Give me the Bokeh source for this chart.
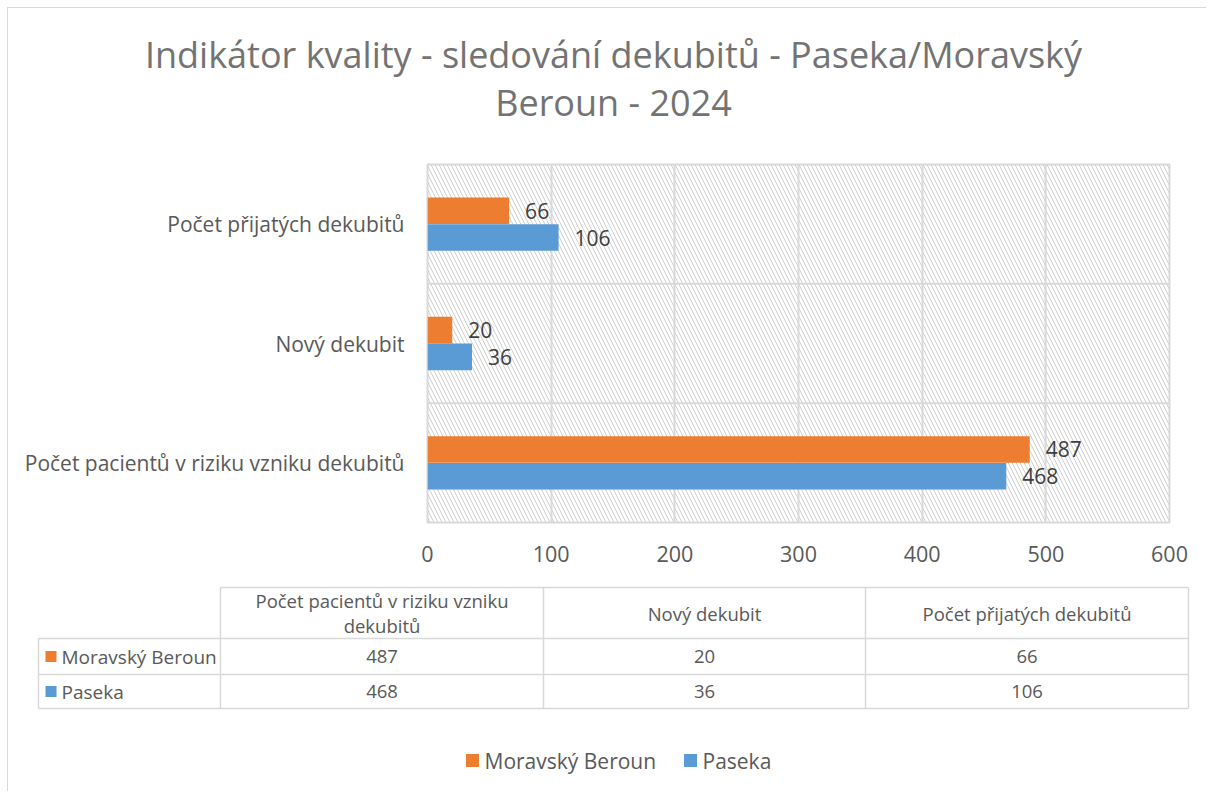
import textwrap
from bokeh.plotting import figure
from bokeh.models import Range1d, FactorRange, Span, BoxAnnotation, FixedTicker, ColumnDataSource
from bokeh.layouts import column
from bokeh.transform import dodge
from bokeh.core.properties import value
from bokeh.embed import file_html
from bokeh.resources import INLINE

# ---------------- data ----------------
title_lines = ["Indikátor kvality - sledování dekubitů - Paseka/Moravský", "Beroun - 2024"]
categories = ["Počet pacientů v riziku vzniku dekubitů", "Nový dekubit", "Počet přijatých dekubitů"]
series_names = ["Moravský Beroun", "Paseka"]
moravsky_beroun = [487, 20, 66]
paseka = [468, 36, 106]
x_ticks = [0, 100, 200, 300, 400, 500, 600]
colors = ["#ED7D31", "#5B9BD5"]

FONT = "Open Sans"
TXT = "#595959"
TITLE = "#737373"
VAL = "#404040"
GRID = "#d9d9d9"
W = 1198

# ---------------- title ----------------
t = figure(width=W, height=140, x_range=Range1d(0, W), y_range=Range1d(140, 0),
           x_axis_location=None, y_axis_location=None, min_border=0, frame_align=False,
           output_backend="svg", toolbar_location=None)
t.grid.visible = False
t.outline_line_color = None
t.text(x=[605] * len(title_lines), y=[46 + 48 * i for i in range(len(title_lines))], text=title_lines,
       text_align="center", text_baseline="middle", text_font=value(FONT),
       text_font_size="36px", text_color=TITLE)

# ---------------- bar chart ----------------
a = figure(width=W, height=427, x_range=Range1d(0, 600), y_range=FactorRange(factors=categories),
           min_border_left=419, min_border_right=37, min_border_top=16, min_border_bottom=53,
           frame_align=False, output_backend="svg", toolbar_location=None)
a.add_layout(BoxAnnotation(fill_color=None, line_color=None, hatch_pattern="\\", hatch_color="#d0d0d0",
                           hatch_scale=8, hatch_weight=1, level="image"))
src = ColumnDataSource(dict(cat=categories, mb=moravsky_beroun, pa=paseka,
                            mb_l=[str(v) for v in moravsky_beroun], pa_l=[str(v) for v in paseka]))
off = 0.112
hh = 0.223
a.hbar(y=dodge("cat", off, range=a.y_range), left=0, right="mb", height=hh, source=src,
       fill_color=colors[0], line_color=None)
a.hbar(y=dodge("cat", -off, range=a.y_range), left=0, right="pa", height=hh, source=src,
       fill_color=colors[1], line_color=None)
a.text(x="mb", y=dodge("cat", off, range=a.y_range), text="mb_l", source=src, x_offset=16,
       text_align="left", text_baseline="middle", text_font=value(FONT), text_font_size="21px",
       text_color=VAL)
a.text(x="pa", y=dodge("cat", -off, range=a.y_range), text="pa_l", source=src, x_offset=16,
       text_align="left", text_baseline="middle", text_font=value(FONT), text_font_size="21px",
       text_color=VAL)
for loc in range(1, len(categories)):
    a.add_layout(Span(location=loc, dimension="width", line_color=GRID, line_width=2, level="underlay"))

a.xaxis.ticker = FixedTicker(ticks=x_ticks)
a.xaxis.axis_line_color = None
a.xaxis.major_tick_line_color = None
a.xaxis.minor_tick_line_color = None
a.xaxis.major_label_standoff = 17
a.xaxis.major_label_text_font = FONT
a.xaxis.major_label_text_font_size = "21.5px"
a.xaxis.major_label_text_color = TXT
a.yaxis.axis_line_color = None
a.yaxis.major_tick_line_color = None
a.yaxis.major_label_standoff = 17
a.yaxis.major_label_text_font = FONT
a.yaxis.major_label_text_font_size = "21px"
a.yaxis.major_label_text_color = TXT
a.xgrid.grid_line_color = GRID
a.xgrid.grid_line_width = 2
a.ygrid.grid_line_color = None
a.outline_line_color = GRID
a.outline_line_width = 2

# ---------------- data table + legend ----------------
b = figure(width=W, height=216, x_range=Range1d(0, W), y_range=Range1d(216, 0),
           x_axis_location=None, y_axis_location=None, min_border=0, frame_align=False,
           output_backend="svg", toolbar_location=None)
b.grid.visible = False
b.outline_line_color = None

left_edge = 30
col_edges = [212, 535, 857, 1180]
row_edges = [12, 63, 99, 133]
x0s, y0s, x1s, y1s = [], [], [], []
x0s.append(col_edges[0]); y0s.append(row_edges[0]); x1s.append(col_edges[-1]); y1s.append(row_edges[0])
for r in row_edges[1:]:
    x0s.append(left_edge); y0s.append(r); x1s.append(col_edges[-1]); y1s.append(r)
x0s.append(left_edge); y0s.append(row_edges[1]); x1s.append(left_edge); y1s.append(row_edges[-1])
for c in col_edges:
    x0s.append(c); y0s.append(row_edges[0]); x1s.append(c); y1s.append(row_edges[-1])
b.segment(x0=x0s, y0=y0s, x1=x1s, y1=y1s, line_color=GRID, line_width=1.5)

col_centers = [(col_edges[i] + col_edges[i + 1]) / 2 for i in range(len(categories))]
hx, hy, ht = [], [], []
hc = (row_edges[0] + row_edges[1]) / 2
for i, cat in enumerate(categories):
    lines = textwrap.wrap(cat, 30)
    for j, ln in enumerate(lines):
        hx.append(col_centers[i]); hy.append(hc + (j - (len(lines) - 1) / 2) * 25); ht.append(ln)
b.text(x=hx, y=hy, text=ht, text_align="center", text_baseline="middle", text_font=value(FONT),
       text_font_size="18.5px", text_color=TXT)

series_vals = [moravsky_beroun, paseka]
for k, name in enumerate(series_names):
    rc = (row_edges[k + 1] + row_edges[k + 2]) / 2
    b.rect(x=[left_edge + 12.5], y=[rc], width=11, height=11, fill_color=colors[k], line_color=None)
    b.text(x=[left_edge + 23], y=[rc], text=[name], text_align="left", text_baseline="middle",
           text_font=value(FONT), text_font_size="19px", text_color=TXT)
    b.text(x=col_centers, y=[rc] * len(categories), text=[str(v) for v in series_vals[k]],
           text_align="center", text_baseline="middle", text_font=value(FONT),
           text_font_size="18.5px", text_color=TXT)

leg_key_x = [464, 682]
leg_y = 185
for k, name in enumerate(series_names):
    b.rect(x=[leg_key_x[k]], y=[leg_y], width=13, height=13, fill_color=colors[k], line_color=None)
    b.text(x=[leg_key_x[k] + 12], y=[leg_y], text=[name], text_align="left", text_baseline="middle",
           text_font=value(FONT), text_font_size="21px", text_color=TXT)

layout = column(t, a, b, spacing=0,
                styles={"margin-left": "7px", "margin-top": "7px",
                        "border-left": "1px solid #d9d9d9", "border-top": "1px solid #d9d9d9"})

with open("out.html", "w") as f:
    f.write(file_html(layout, INLINE))
